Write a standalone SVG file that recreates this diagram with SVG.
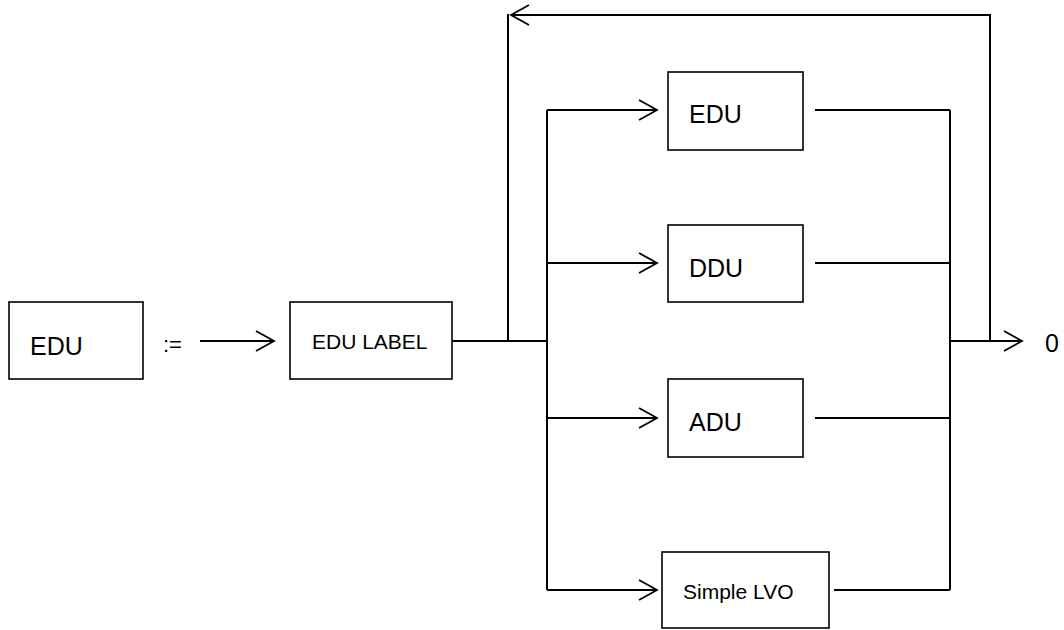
<svg xmlns="http://www.w3.org/2000/svg" width="1064" height="630" viewBox="0 0 1064 630">
<style>
.box{fill:#fff;stroke:#000;stroke-width:1.6}
.ln{fill:none;stroke:#000;stroke-width:2}
.t{font-family:"Liberation Sans",Arial,sans-serif;fill:#000}
</style>
<defs>
<marker id="arr" markerUnits="userSpaceOnUse" markerWidth="22" markerHeight="24" refX="19" refY="11" orient="auto">
<path d="M1,1 L19,11 L1,21" fill="none" stroke="#000" stroke-width="1.8"/>
</marker>
</defs>
<rect width="1064" height="630" fill="#fff"/>
<g id="connectors">
<path class="ln" d="M200,341 H274" marker-end="url(#arr)"/>
<path class="ln" d="M452,341 H548"/>
<path class="ln" d="M508,341 V14"/>
<path class="ln" d="M990,341 V15 H511" marker-end="url(#arr)"/>
<path class="ln" d="M547,110 V590"/>
<path class="ln" d="M547,110 H657" marker-end="url(#arr)"/>
<path class="ln" d="M547,263 H657" marker-end="url(#arr)"/>
<path class="ln" d="M547,418 H657" marker-end="url(#arr)"/>
<path class="ln" d="M547,590 H657" marker-end="url(#arr)"/>
<path class="ln" d="M815,110 H950"/>
<path class="ln" d="M815,263 H950"/>
<path class="ln" d="M815,418 H950"/>
<path class="ln" d="M834,590 H950"/>
<path class="ln" d="M950,110 V590"/>
<path class="ln" d="M950,341 H1022" marker-end="url(#arr)"/>
</g>
<g id="n-edu-def">
<rect class="box" x="9" y="302" width="134" height="77"/>
<text class="t" x="30" y="355" font-size="25">EDU</text>
</g>
<text id="assign" class="t" x="163" y="352" font-size="22">:=</text>
<g id="n-edu-label">
<rect class="box" x="290" y="302" width="162" height="77"/>
<text class="t" x="312" y="349" font-size="21">EDU LABEL</text>
</g>
<g id="n-edu">
<rect class="box" x="668" y="72" width="135" height="78"/>
<text class="t" x="689" y="123" font-size="25">EDU</text>
</g>
<g id="n-ddu">
<rect class="box" x="668" y="225" width="135" height="77"/>
<text class="t" x="689" y="277" font-size="25">DDU</text>
</g>
<g id="n-adu">
<rect class="box" x="668" y="379" width="135" height="78"/>
<text class="t" x="689" y="431" font-size="25">ADU</text>
</g>
<g id="n-lvo">
<rect class="box" x="662" y="552" width="167" height="76"/>
<text class="t" x="683" y="599" font-size="21">Simple LVO</text>
</g>
<text id="out0" class="t" x="1045" y="352" font-size="25">0</text>
</svg>
